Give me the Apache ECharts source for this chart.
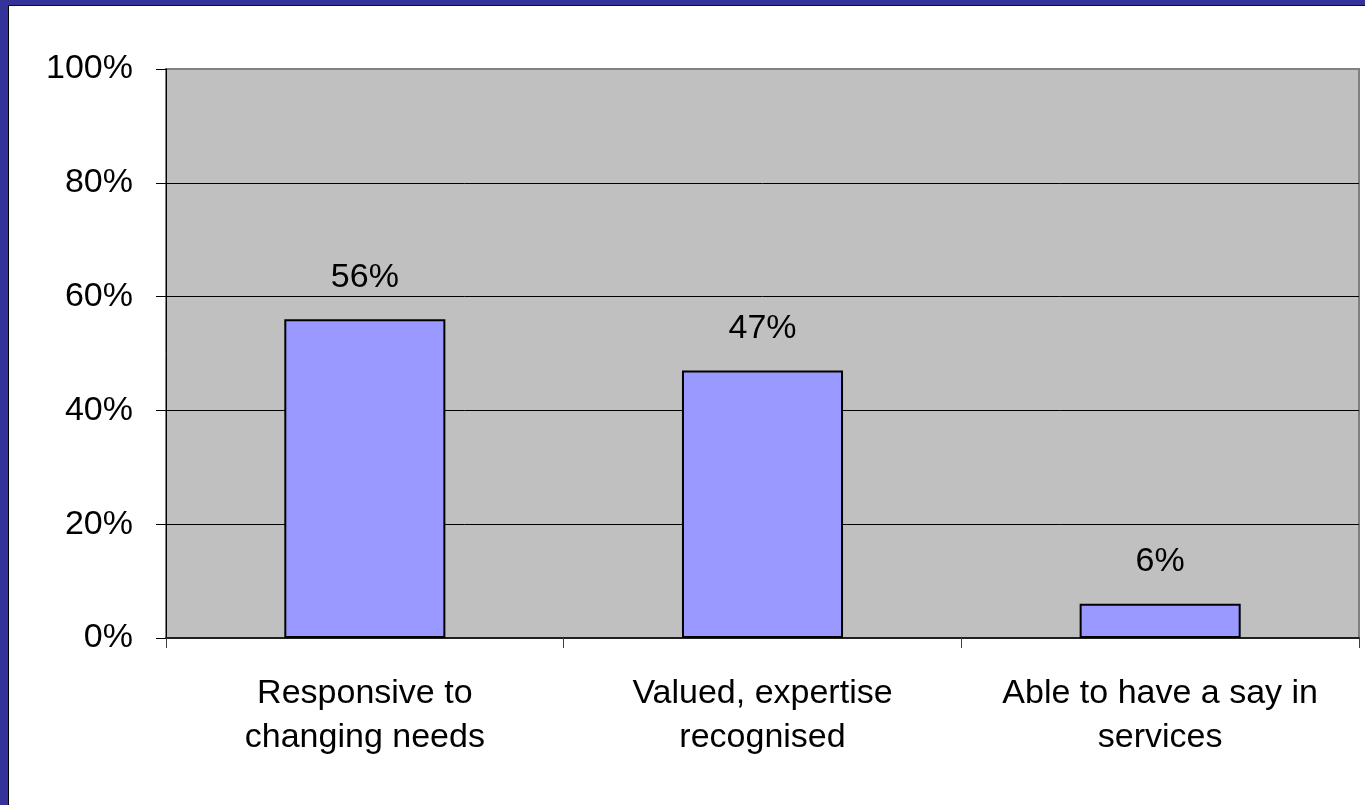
<!DOCTYPE html>
<html>
<head>
<meta charset="utf-8">
<script src="https://cdn.jsdelivr.net/npm/echarts@6/dist/echarts.min.js"></script>
<style>
  html, body { margin: 0; padding: 0; width: 1365px; height: 805px; overflow: hidden; background: #333399; }
  #chart {
    position: absolute; left: 8px; top: 5px;
    width: 1356px; height: 799px;
    background: #ffffff;
    border-left: 1px solid #000000;
    border-top: 1px solid #111111;
  }
</style>
</head>
<body>
<div id="chart"></div>
<script>
// Share of respondents agreeing with each statement (%)
const categories = ['Responsive to\nchanging needs', 'Valued, expertise\nrecognised', 'Able to have a say in\nservices'];
const values = [56, 47, 6];
const yTicks = [0, 20, 40, 60, 80, 100];

const chart = echarts.init(document.getElementById('chart'), null, { renderer: 'canvas' });
const font = '"Liberation Sans", Arial, sans-serif';

chart.setOption({
  animation: false,
  grid: {
    left: 157, right: 6, top: 63, bottom: 167,
    show: true,
    backgroundColor: '#c0c0c0',
    borderColor: '#808080',
    borderWidth: 2
  },
  xAxis: {
    type: 'category',
    data: categories,
    axisLine: { show: true, lineStyle: { color: '#202020', width: 2 } },
    axisTick: { show: true, interval: 0, alignWithLabel: false, length: 10, lineStyle: { color: '#404040' } },
    axisLabel: {
      interval: 0, hideOverlap: false,
      fontFamily: font, fontSize: 34, color: '#000000', lineHeight: 44, margin: 34
    }
  },
  yAxis: {
    type: 'value',
    min: yTicks[0], max: yTicks[yTicks.length - 1], interval: 20,
    axisLine: { show: true, lineStyle: { color: '#000000', width: 1 } },
    axisTick: { show: true, length: 10, lineStyle: { color: '#000000' } },
    axisLabel: { fontFamily: font, fontSize: 34, color: '#000000', margin: 33, formatter: '{value}%' },
    splitLine: { show: true, lineStyle: { color: ['#000000', '#000000', '#000000', '#000000', '#000000', '#808080'], width: 1 } }
  },
  series: [{
    type: 'bar',
    data: values,
    barWidth: '40.5%',
    itemStyle: { color: '#9999ff', borderColor: '#000000', borderWidth: 2 },
    label: {
      show: true, position: 'top', distance: 25,
      fontFamily: font, fontSize: 34, color: '#000000',
      formatter: '{c}%'
    }
  }]
});
</script>
</body>
</html>
